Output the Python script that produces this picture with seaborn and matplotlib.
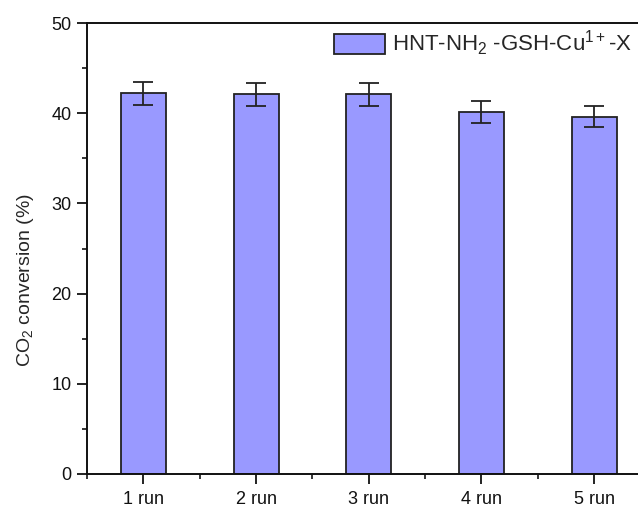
import matplotlib
matplotlib.use("Agg")
import matplotlib.pyplot as plt
import seaborn as sns
import pandas as pd
from matplotlib.ticker import MultipleLocator, FixedLocator

runs = ["1 run", "2 run", "3 run", "4 run", "5 run"]
conversion = [42.2, 42.1, 42.1, 40.1, 39.6]
errors = [1.25, 1.25, 1.25, 1.2, 1.15]
series_label = "HNT-NH$_2$ -GSH-Cu$^{1+}$-X"

sns.set_style("ticks")
plt.rcParams['font.family'] = ['Liberation Sans', 'DejaVu Sans']
plt.rcParams['mathtext.fontset'] = 'custom'
plt.rcParams['mathtext.rm'] = 'Liberation Sans'
plt.rcParams['mathtext.it'] = 'Liberation Sans'

df = pd.DataFrame({"run": runs, "conv": conversion})

fig = plt.figure(figsize=(6.38, 5.07), dpi=100)
W, H = 638, 507
x0, x1, ytop, ybot = 87, 650.5, 23, 474
ax = fig.add_axes([x0 / W, (H - ybot) / H, (x1 - x0) / W, (ybot - ytop) / H])

sns.barplot(data=df, x="run", y="conv", ax=ax, color="#9999FF", saturation=1,
            width=0.4, edgecolor="#222222", linewidth=1.3, errorbar=None,
            label=series_label)
ax.errorbar(range(len(runs)), conversion, yerr=errors, fmt="none",
            ecolor="#222222", elinewidth=1.3, capsize=7, capthick=1.3)

ax.set_xlim(-0.5, 4.5)
ax.set_ylim(0, 50)
ax.yaxis.set_major_locator(MultipleLocator(10))
ax.yaxis.set_minor_locator(MultipleLocator(5))
ax.xaxis.set_minor_locator(FixedLocator([-0.5, 0.5, 1.5, 2.5, 3.5]))
ax.set_xlabel("")
ax.set_ylabel("CO$_2$ conversion (%)", fontsize=14)
ax.yaxis.set_label_coords(-0.09, 0.43)
for s in ax.spines.values():
    s.set_linewidth(1.4)
    s.set_color("#111111")
ax.tick_params(axis="both", which="major", direction="out", length=7, width=1.3,
               labelsize=13, colors="#111111", pad=4)
ax.tick_params(axis="both", which="minor", direction="out", length=3.5, width=1.3)
ax.tick_params(axis="x", pad=5)

ax.legend(loc="upper left", bbox_to_anchor=(334 / W, 1 - 29 / H),
          bbox_transform=fig.transFigure, frameon=False, fontsize=16,
          handlelength=2.3, handleheight=1.05, borderpad=0, borderaxespad=0,
          handletextpad=0.3)

fig.savefig("out.png", dpi=100)
